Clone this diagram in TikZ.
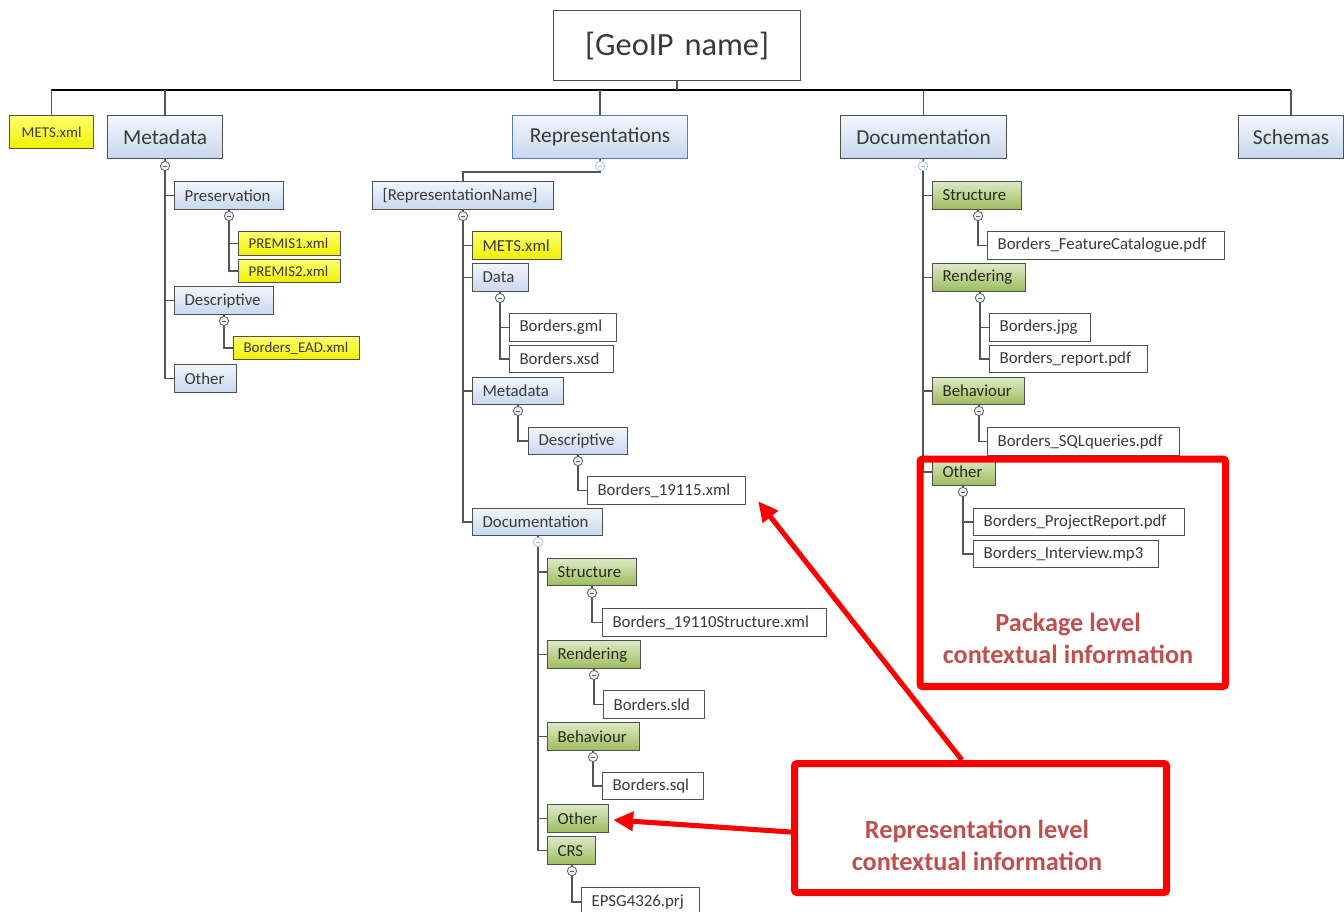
\documentclass[tikz,border=0pt]{standalone}
\usepackage{fontspec}
\setmainfont{Carlito}
\usetikzlibrary{arrows.meta}
\definecolor{bxborder}{HTML}{505050}
\definecolor{txt}{HTML}{3A3A3A}
\definecolor{grtxt}{HTML}{2A2A1A}
\definecolor{bltop}{HTML}{F2F6FC}
\definecolor{blbot}{HTML}{C8D8EF}
\definecolor{grtop}{HTML}{DDE9C6}
\definecolor{grbot}{HTML}{9DBC5C}
\definecolor{yetop}{HTML}{FFFF70}
\definecolor{yebot}{HTML}{F0F000}
\definecolor{repborder}{HTML}{4F81BD}
\definecolor{connc}{HTML}{555555}
\definecolor{mkdraw}{HTML}{606060}
\definecolor{mkfill}{HTML}{E8EEF6}
\definecolor{faintc}{HTML}{A8BEDC}
\definecolor{redc}{HTML}{FF0000}
\definecolor{redtxt}{HTML}{C0504D}
\tikzset{
  base/.style={draw=bxborder, line width=0.9pt, inner ysep=0pt, inner xsep=7.5pt,
    align=left, font=\fontsize{12.6}{14}\selectfont, text=txt},
  bluebox/.style={base, top color=bltop, bottom color=blbot},
  greenbox/.style={base, top color=grtop, bottom color=grbot, text=grtxt},
  yelbox/.style={base, top color=yetop, bottom color=yebot},
  yelsmall/.style={yelbox, font=\fontsize{11.2}{13}\selectfont},
  whitebox/.style={base, fill=white},
  topbox/.style={bluebox, align=center, font=\fontsize{16}{19}\selectfont},
  mk/.style={circle, draw=mkdraw, fill=mkfill, line width=0.6pt, minimum size=7pt, inner sep=0pt,
    path picture={\draw[mkdraw, line width=0.6pt] ([xshift=-1.8pt]path picture bounding box.center) -- ([xshift=1.8pt]path picture bounding box.center);}},
  faintmk/.style={circle, draw=faintc, fill=white, line width=0.6pt, minimum size=7pt, inner sep=0pt,
    path picture={\draw[faintc, line width=0.6pt] ([xshift=-1.8pt]path picture bounding box.center) -- ([xshift=1.8pt]path picture bounding box.center);}},
  conn/.style={draw=connc, line width=1.1pt},
  busline/.style={draw=black, line width=0.9pt},
  redbox/.style={draw=redc, line width=5.3pt, rounded corners=2pt, inner sep=0pt},
  redarr/.style={draw=redc, line width=3.8pt, -{Triangle[length=15pt,width=14pt]}},
  redlabel/.style={text=redtxt, align=center, font=\bfseries\fontsize{19.7}{24}\selectfont}
}
\newcommand\bx[7]{%
  \pgfmathsetmacro\bxw{(#5-#3)*0.75-15}%
  \pgfmathsetmacro\bxh{(#6-#4)*0.75}%
  \node[#2, anchor=north west, text width=\bxw pt, minimum height=\bxh pt] (#1) at (#3,#4) {\mbox{#7}};%
}
\begin{document}
\begin{tikzpicture}[x=0.75pt,y=-0.75pt]
\useasboundingbox (0,0) rectangle (1344,911);
\clip (0,0) rectangle (1344,911);
\fill[white] (0,0) rectangle (1344,911);

% ---------- root and top level ----------
\bx{root}{whitebox, align=center, draw=bxborder, font=\fontsize{24.3}{28}\selectfont}{553}{10}{800}{80}{[GeoIP name]}
\bx{tmets}{yelsmall, align=center}{9}{115}{93}{148}{METS.xml}
\bx{tmeta}{topbox}{107}{115}{222}{158}{Metadata}
\bx{trep}{topbox, draw=repborder}{512}{115}{687}{158}{Representations}
\bx{tdoc}{topbox}{840}{115}{1006}{158}{Documentation}
\bx{tsch}{topbox}{1238}{115}{1343}{158}{Schemas}

\coordinate (busL) at (51,90);
\coordinate (busR) at (1291,90);
\draw[busline] (busL) -- (busR);
\draw[conn] (root.south) -- (root.south |- busL);
\foreach \c in {tmets,tmeta,trep,tdoc,tsch}
  \draw[conn] (\c.north) -- (\c.north |- busL);

% ---------- Metadata branch ----------
\node[mk] (mA) at (165,166) {};
\bx{pres}{bluebox}{174}{181}{283}{209}{Preservation}
\node[mk] (mB) at (229,216) {};
\bx{prem1}{yelsmall}{238}{231}{340}{255}{PREMIS1.xml}
\bx{prem2}{yelsmall}{238}{259}{340}{282}{PREMIS2.xml}
\bx{mdesc}{bluebox}{174}{286}{273}{314}{Descriptive}
\node[mk] (mC) at (224,321) {};
\bx{ead}{yelsmall}{233}{336}{359}{359}{Borders\_EAD.xml}
\bx{moth}{bluebox}{174}{364}{236}{392}{Other}

\draw[conn] (tmeta.south) -- (mA.north);
\foreach \c in {pres,mdesc,moth} \draw[conn] (mA.south) |- (\c.west);
\draw[conn] (pres.south -| mB) -- (mB.north);
\foreach \c in {prem1,prem2} \draw[conn] (mB.south) |- (\c.west);
\draw[conn] (mdesc.south -| mC) -- (mC.north);
\draw[conn] (mC.south) |- (ead.west);

% ---------- Representations branch ----------
\node[faintmk] (mR) at (600,166) {};
\bx{rn}{bluebox}{372}{181}{553}{209}{[RepresentationName]}
\coordinate (rj) at (600,172);
\draw[conn] (mR.south) -- (rj) -| (rn.north);
\node[mk] (mRN) at (463,216) {};
\bx{rmets}{yelbox}{472}{231}{561}{259}{METS.xml}
\bx{rdata}{bluebox}{472}{263}{528}{291}{Data}
\node[mk] (mD) at (500,298) {};
\bx{gml}{whitebox}{509}{313}{616}{341}{Borders.gml}
\bx{xsd}{whitebox}{509}{345}{613}{372}{Borders.xsd}
\bx{rmeta}{bluebox}{472}{377}{563}{404}{Metadata}
\node[mk] (mM) at (518,411) {};
\bx{rdesc}{bluebox}{528}{427}{627}{454}{Descriptive}
\node[mk] (mDe) at (578,461) {};
\bx{b19115}{whitebox}{587}{476}{745}{504}{Borders\_19115.xml}
\bx{rdoc}{bluebox}{472}{508}{602}{535}{Documentation}
\node[faintmk] (mDo) at (538,542) {};
\bx{rstruct}{greenbox}{547}{558}{636}{585}{Structure}
\node[mk] (mS) at (592,593) {};
\bx{b19110}{whitebox}{602}{608}{826}{636}{Borders\_19110Structure.xml}
\bx{rrend}{greenbox}{547}{640}{640}{668}{Rendering}
\node[mk] (mRe) at (594,675) {};
\bx{sld}{whitebox}{603}{690}{704}{718}{Borders.sld}
\bx{rbeh}{greenbox}{547}{722}{639}{750}{Behaviour}
\node[mk] (mBe) at (593,757) {};
\bx{sql}{whitebox}{602}{772}{703}{799}{Borders.sql}
\bx{roth}{greenbox}{547}{804}{608}{832}{Other}
\bx{rcrs}{greenbox}{547}{836}{595}{864}{CRS}
\node[mk] (mCr) at (572,871) {};
\bx{epsg}{whitebox}{581}{887}{699}{916}{EPSG4326.prj}

\draw[conn] (trep.south) -- (mR.north);
\draw[conn] (rn.south -| mRN) -- (mRN.north);
\foreach \c in {rmets,rdata,rmeta,rdoc} \draw[conn] (mRN.south) |- (\c.west);
\draw[conn] (rdata.south -| mD) -- (mD.north);
\foreach \c in {gml,xsd} \draw[conn] (mD.south) |- (\c.west);
\draw[conn] (rmeta.south -| mM) -- (mM.north);
\draw[conn] (mM.south) |- (rdesc.west);
\draw[conn] (rdesc.south -| mDe) -- (mDe.north);
\draw[conn] (mDe.south) |- (b19115.west);
\draw[conn] (rdoc.south -| mDo) -- (mDo.north);
\foreach \c in {rstruct,rrend,rbeh,roth,rcrs} \draw[conn] (mDo.south) |- (\c.west);
\draw[conn] (rstruct.south -| mS) -- (mS.north);
\draw[conn] (mS.south) |- (b19110.west);
\draw[conn] (rrend.south -| mRe) -- (mRe.north);
\draw[conn] (mRe.south) |- (sld.west);
\draw[conn] (rbeh.south -| mBe) -- (mBe.north);
\draw[conn] (mBe.south) |- (sql.west);
\draw[conn] (rcrs.south -| mCr) -- (mCr.north);
\draw[conn] (mCr.south) |- (epsg.west);

% ---------- Documentation branch ----------
\node[faintmk] (mDoc) at (923,166) {};
\bx{dstruct}{greenbox}{932}{181}{1021}{209}{Structure}
\node[mk] (mDS) at (978,216) {};
\bx{fcat}{whitebox}{987}{231}{1224}{259}{Borders\_FeatureCatalogue.pdf}
\bx{drend}{greenbox}{932}{263}{1025}{291}{Rendering}
\node[mk] (mDR) at (980,298) {};
\bx{jpg}{whitebox}{989}{313}{1090}{341}{Borders.jpg}
\bx{rpdf}{whitebox}{989}{345}{1147}{372}{Borders\_report.pdf}
\bx{dbeh}{greenbox}{932}{377}{1024}{404}{Behaviour}
\node[mk] (mDB) at (979,411) {};
\bx{sqlq}{whitebox}{987}{427}{1179}{455}{Borders\_SQLqueries.pdf}
\bx{doth}{greenbox}{932}{458}{995}{485}{Other}
\node[mk] (mDO) at (963,492) {};
\bx{proj}{whitebox}{973}{508}{1184}{535}{Borders\_ProjectReport.pdf}
\bx{intv}{whitebox}{973}{540}{1158}{567}{Borders\_Interview.mp3}

\draw[conn] (tdoc.south) -- (mDoc.north);
\foreach \c in {dstruct,drend,dbeh,doth} \draw[conn] (mDoc.south) |- (\c.west);
\draw[conn] (dstruct.south -| mDS) -- (mDS.north);
\draw[conn] (mDS.south) |- (fcat.west);
\draw[conn] (drend.south -| mDR) -- (mDR.north);
\foreach \c in {jpg,rpdf} \draw[conn] (mDR.south) |- (\c.west);
\draw[conn] (dbeh.south -| mDB) -- (mDB.north);
\draw[conn] (mDB.south) |- (sqlq.west);
\draw[conn] (doth.south -| mDO) -- (mDO.north);
\foreach \c in {proj,intv} \draw[conn] (mDO.south) |- (\c.west);

% ---------- red annotation boxes ----------
\node[redbox, anchor=north west, minimum width={(1222-916.5)*0.75pt}, minimum height={(683-455.5)*0.75pt}] (pkg) at (916.5,455.5) {};
\node[redlabel] (pkgtxt) at (1068,638) {Package level\\contextual information};
\node[redbox, anchor=north west, minimum width={(1163-791)*0.75pt}, minimum height={(889-760)*0.75pt}] (repbox) at (791,760) {};
\node[redlabel] (reptxt) at (977,845) {Representation level\\contextual information};

\draw[redarr] ([xshift=-14pt]repbox.north) -- ([xshift=9pt,yshift=3pt]b19115.south east);
\draw[redarr] ([yshift=-3pt]repbox.west) -- ([xshift=3pt,yshift=-1pt]roth.east);
\end{tikzpicture}
\end{document}
